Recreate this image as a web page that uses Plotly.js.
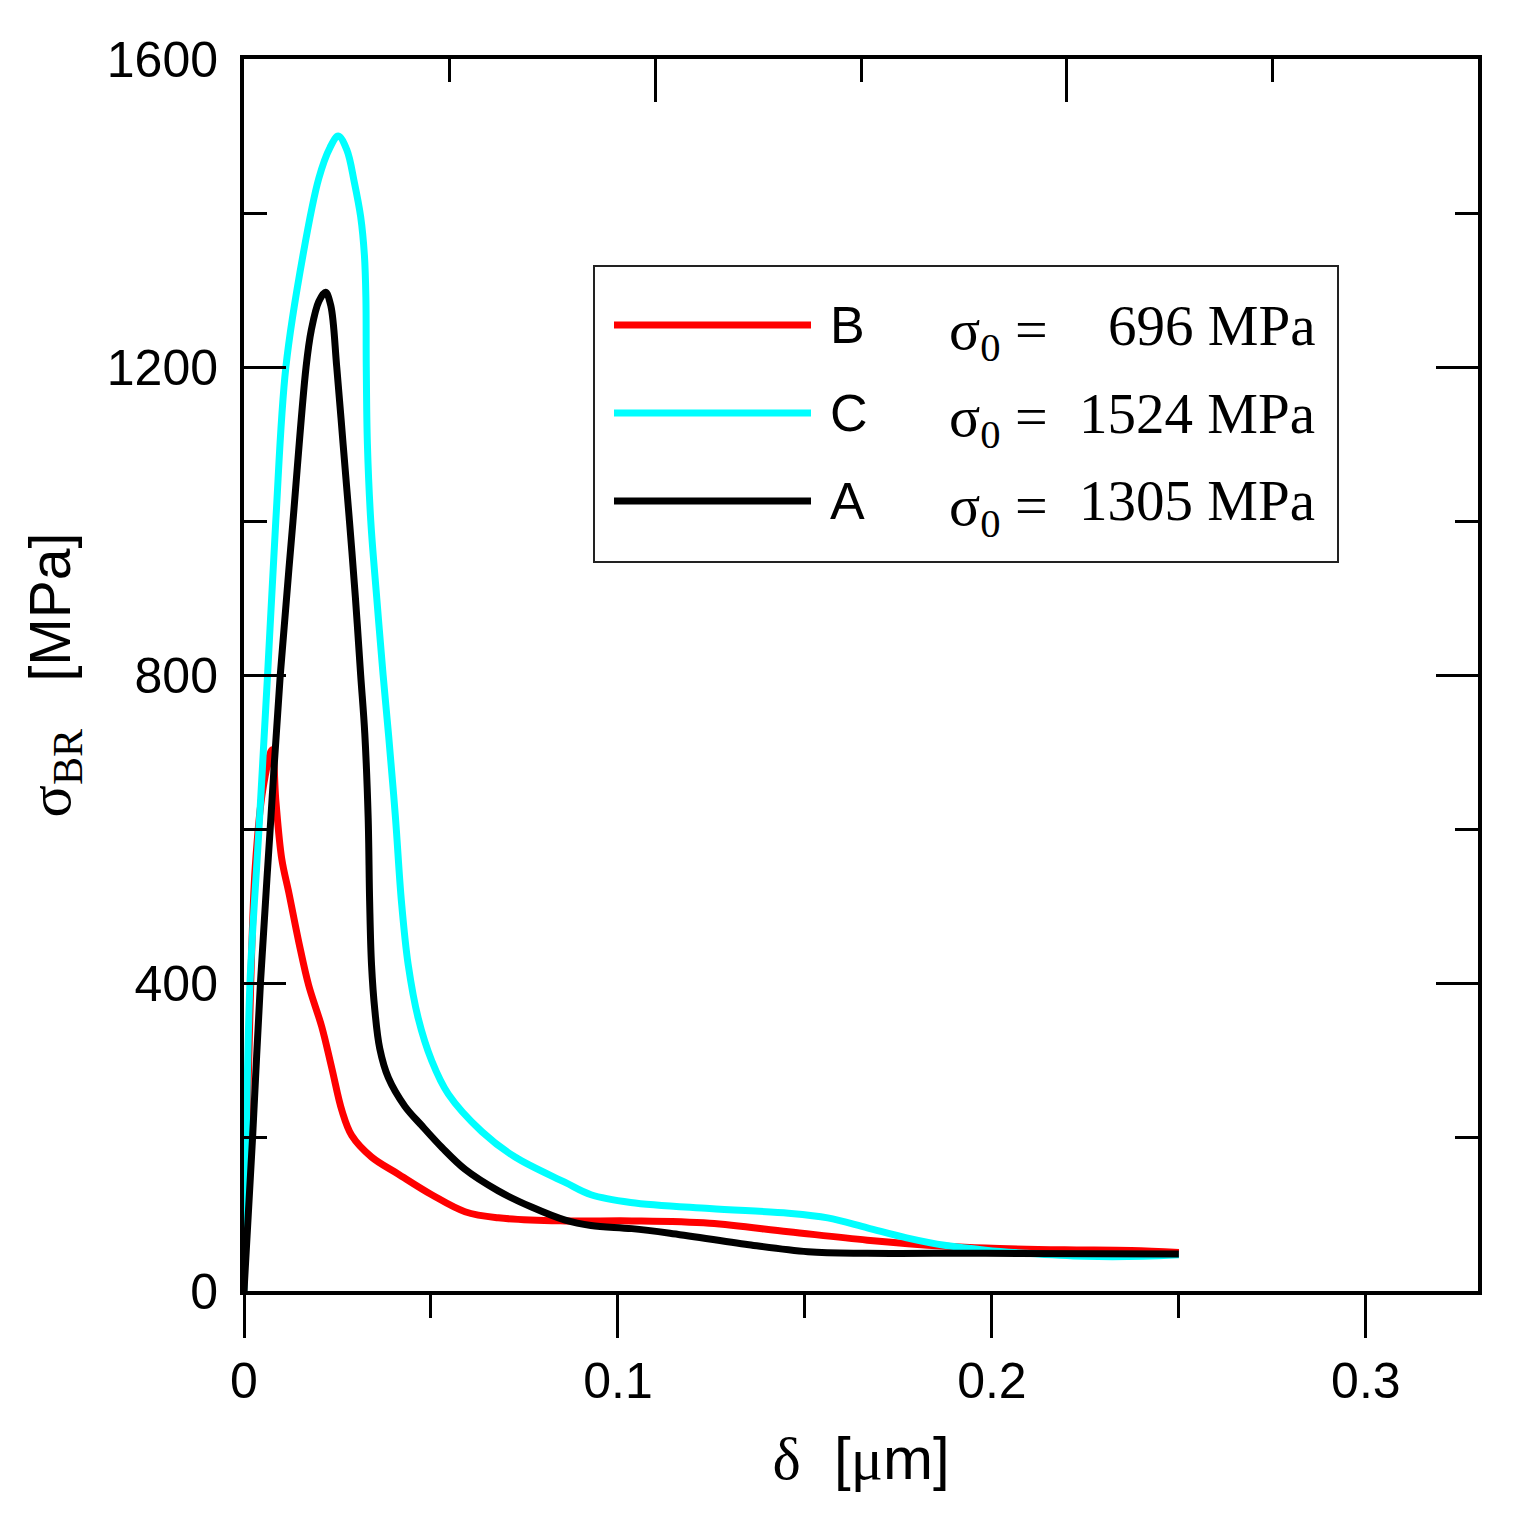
<!DOCTYPE html>
<html><head><meta charset="utf-8">
<script src="https://cdn.plot.ly/plotly-3.0.1.min.js"></script>
<style>html,body{margin:0;padding:0;background:#fff}#chart{width:1535px;height:1517px}</style>
</head><body><div id="chart"></div>
<script>
// ---- data ----
const seriesNames = ["B", "C", "A"];
const sigma0Labels = ["696 MPa", "1524 MPa", "1305 MPa"];
const seriesColors = ["#ff0000", "#00ffff", "#000000"];

const deltaB = [0, 0.0008, 0.0018, 0.0030, 0.0050, 0.0075, 0.0085, 0.0101, 0.0120, 0.0147, 0.0173, 0.0208, 0.0235, 0.0262, 0.0288, 0.0341, 0.0412, 0.0502, 0.0591, 0.0680, 0.0859, 0.1037, 0.1245, 0.1456, 0.1667, 0.1878, 0.1983, 0.2194, 0.2373, 0.2500];
const sigmaB = [0, 200, 400, 550, 650, 703, 638, 561, 517, 452, 397, 343, 289, 234, 202, 174, 152, 125, 103, 95, 91, 91, 88, 77, 66, 58, 55.7, 53.6, 52.7, 50];

const deltaC = [0, 0.0006, 0.0016, 0.0040, 0.0063, 0.0085, 0.0112, 0.0158, 0.0200, 0.0230, 0.0252, 0.0275, 0.0295, 0.0312, 0.0322, 0.0326, 0.0327, 0.0330, 0.0339, 0.0355, 0.0372, 0.0387, 0.0405, 0.0421, 0.0439, 0.0466, 0.0502, 0.0546, 0.0636, 0.0725, 0.0859, 0.0928, 0.1034, 0.1245, 0.1456, 0.1561, 0.1667, 0.1772, 0.1878, 0.1983, 0.2089, 0.2247, 0.2405, 0.2500];
const sigmaC = [0, 200, 400, 600, 800, 1000, 1200, 1346, 1445, 1485, 1500, 1482, 1440, 1395, 1345, 1290, 1200, 1100, 1000, 900, 800, 720, 615, 506, 424, 354, 299, 256, 207, 174, 141, 125, 115, 107, 101, 95, 82, 69, 59, 53, 49, 45, 45, 47];

const deltaA = [0, 0.0023, 0.0044, 0.0070, 0.0097, 0.0131, 0.0166, 0.0180, 0.0200, 0.0218, 0.0232, 0.0248, 0.0265, 0.0282, 0.0298, 0.0312, 0.0323, 0.0332, 0.0336, 0.0341, 0.0350, 0.0363, 0.0386, 0.0430, 0.0475, 0.0530, 0.0591, 0.0680, 0.0769, 0.0859, 0.0928, 0.1037, 0.1139, 0.1350, 0.1508, 0.1667, 0.1983, 0.2500];
const sigmaA = [0, 200, 400, 600, 800, 1000, 1200, 1248, 1285, 1297, 1280, 1200, 1100, 1000, 900, 800, 724, 615, 506, 424, 364, 315, 277, 240, 215, 186, 158, 130, 109, 92, 85, 81, 75, 60, 51, 49, 49, 48];

const xTickVals = [0, 0.1, 0.2, 0.3];
const xTickText = ["0", "0.1", "0.2", "0.3"];
const xMinorVals = [0.05, 0.15, 0.25];
const xRange = [0, 0.33];
const topTickVals = [0.11, 0.22];
const topMinorVals = [0.055, 0.165, 0.275];
const yTickVals = [0, 400, 800, 1200, 1600];
const yTickText = ["0", "400", "800", "1200", "1600"];

// ---- layout geometry ----
const W = 1535, H = 1517;
const M = {l: 244, r: 57, t: 59, b: 226};
const PW = W - M.l - M.r, PH = H - M.t - M.b;
const px = v => (v - M.l) / PW;
const py = v => (H - M.b - v) / PH;

const SERIF = "Liberation Serif, Times New Roman, serif";
const SANS = "Liberation Sans, Arial, sans-serif";

const xs = [deltaB, deltaC, deltaA];
const ys = [sigmaB, sigmaC, sigmaA];
const traces = xs.map((x, i) => ({
  x: x, y: ys[i], type: "scatter", mode: "lines", name: seriesNames[i],
  line: {color: seriesColors[i], width: 7, shape: "spline", smoothing: 1},
  showlegend: false, hoverinfo: "skip"
}));
// empty trace so that the top (secondary) x axis is drawn
traces.push({x: xRange, y: [null, null], xaxis: "x2", yaxis: "y", type: "scatter", mode: "lines",
  showlegend: false, hoverinfo: "skip"});

// legend drawn in layout
const rowY = [325, 413, 501];
const shapes = [{type: "rect", xref: "paper", yref: "paper", x0: px(594), x1: px(1338), y0: py(266), y1: py(562),
  line: {color: "#222", width: 2}, fillcolor: "rgba(255,255,255,1)", layer: "above"}];
const annotations = [];
rowY.forEach((yy, i) => {
  shapes.push({type: "line", xref: "paper", yref: "paper", x0: px(614), x1: px(811), y0: py(yy), y1: py(yy),
    line: {color: seriesColors[i], width: 7}, layer: "above"});
  annotations.push({xref: "paper", yref: "paper", x: px(828), y: py(yy), xanchor: "left", yanchor: "middle",
    text: seriesNames[i], showarrow: false, font: {family: SANS, size: 52, color: "#000"}});
  annotations.push({xref: "paper", yref: "paper", x: px(947), y: py(yy + 8), xanchor: "left", yanchor: "middle",
    text: "σ<sub>0</sub> =", showarrow: false, font: {family: SERIF, size: 58, color: "#000"}});
  annotations.push({xref: "paper", yref: "paper", x: px(1317), y: py(yy), xanchor: "right", yanchor: "middle",
    text: sigma0Labels[i], showarrow: false, font: {family: SERIF, size: 57, color: "#000"}});
});

const layout = {
  width: W, height: H, margin: M, paper_bgcolor: "#fff", plot_bgcolor: "#fff", showlegend: false,
  font: {family: SANS, color: "#000"},
  xaxis: {
    range: xRange, tickmode: "array", tickvals: xTickVals, ticktext: xTickText,
    ticks: "outside", ticklen: 43, tickwidth: 3, tickcolor: "#000",
    minor: {tickmode: "array", tickvals: xMinorVals, ticks: "outside", ticklen: 23, tickwidth: 3, tickcolor: "#000", showgrid: false},
    showline: true, linewidth: 4, linecolor: "#000", mirror: false, showgrid: false, zeroline: false,
    tickfont: {family: SANS, size: 50, color: "#000"},
    title: {text: '<span style="font-family:Liberation Serif">δ</span>\u00A0\u00A0[<span style="font-family:Liberation Serif">μ</span>m]',
      font: {family: SANS, size: 60, color: "#000"}, standoff: 30}
  },
  xaxis2: {
    overlaying: "x", side: "top", anchor: "y", range: xRange, tickmode: "array", tickvals: topTickVals,
    ticks: "inside", ticklen: 43, tickwidth: 3, tickcolor: "#000", showticklabels: false,
    minor: {tickmode: "array", tickvals: topMinorVals, ticks: "inside", ticklen: 23, tickwidth: 3, tickcolor: "#000", showgrid: false},
    showline: true, linewidth: 4, linecolor: "#000", showgrid: false, zeroline: false
  },
  yaxis: {
    range: [0, 1600], tickmode: "array", tickvals: yTickVals, ticktext: yTickText,
    ticks: "inside", ticklen: 42, tickwidth: 3, tickcolor: "#000", ticklabelstandoff: 12,
    minor: {dtick: 200, tick0: 0, ticks: "inside", ticklen: 23, tickwidth: 3, tickcolor: "#000", showgrid: false},
    showline: true, linewidth: 4, linecolor: "#000", mirror: "ticks", showgrid: false, zeroline: false,
    tickfont: {family: SANS, size: 50, color: "#000"},
    title: {text: '<span style="font-family:Liberation Serif;font-size:60px">σ<sub>BR</sub></span>\u00A0\u00A0\u00A0[MPa]',
      font: {family: SANS, size: 57, color: "#000"}, standoff: 19}
  },
  shapes: shapes, annotations: annotations
};

Plotly.newPlot("chart", traces, layout, {staticPlot: true, displayModeBar: false});
</script>
</body></html>
